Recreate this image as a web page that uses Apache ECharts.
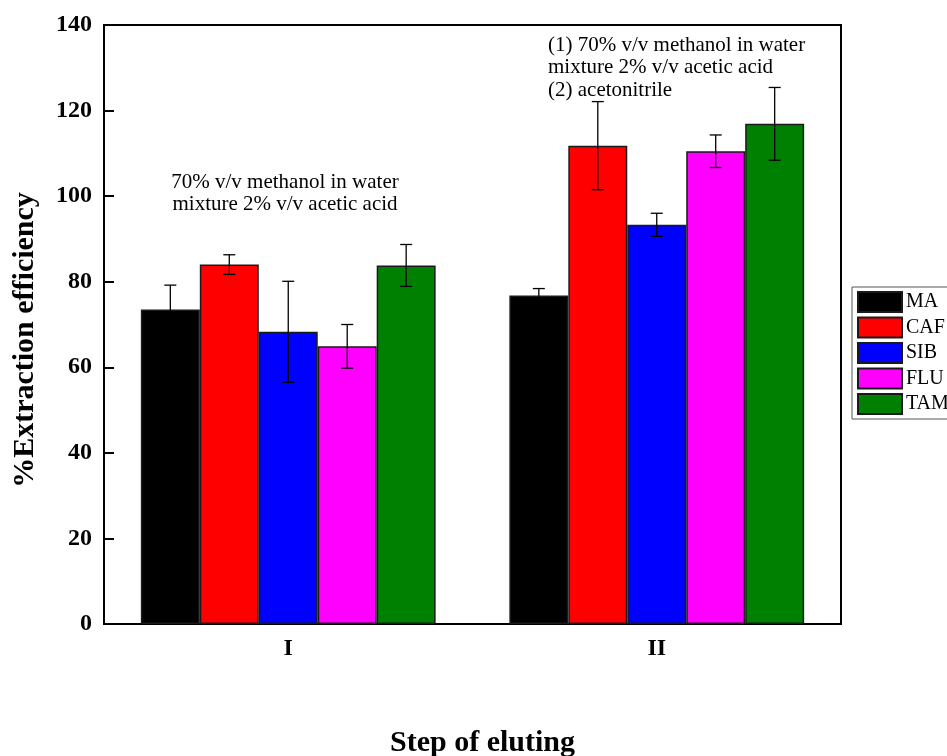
<!DOCTYPE html>
<html>
<head>
<meta charset="utf-8">
<script src="https://cdn.jsdelivr.net/npm/echarts@6/dist/echarts.min.js"></script>
<style>
  html, body { margin: 0; padding: 0; background: #fff; }
  #chart { width: 947px; height: 756px; }
</style>
</head>
<body>
<div id="chart"></div>
<script>
// Elution steps
const categories = ['I', 'II'];

// Mean extraction efficiency (%) per analyte for each elution step
const seriesNames = ['MA', 'CAF', 'SIB', 'FLU', 'TAM'];
const MA  = [73.5, 76.8];
const CAF = [84.0, 111.8];
const SIB = [68.3, 93.3];
const FLU = [64.9, 110.5];
const TAM = [83.8, 116.9];

// Standard deviations (error bar half-lengths)
const MA_err  = [5.7, 1.6];
const CAF_err = [2.3, 10.3];
const SIB_err = [11.8, 2.7];
const FLU_err = [5.1, 3.8];
const TAM_err = [4.9, 8.5];

const yTicks = [0, 20, 40, 60, 80, 100, 120, 140];

const values = [MA, CAF, SIB, FLU, TAM];
const errors = [MA_err, CAF_err, SIB_err, FLU_err, TAM_err];
const colors = ['#000000', '#ff0000', '#0000ff', '#ff00ff', '#008000'];

const serif = '"Liberation Serif", "Times New Roman", serif';
const nBars = seriesNames.length;
const groupFrac = 0.8;

const barSeries = seriesNames.map((name, i) => ({
  name: name,
  type: 'bar',
  data: values[i],
  barGap: '0%',
  barCategoryGap: '20%',
  itemStyle: { color: colors[i], borderColor: '#1a1a1a', borderWidth: 1.5 },
  z: 2
}));

// Error bars drawn at each bar's centre using the category band width
const errSeries = seriesNames.map((name, i) => ({
  name: name + ' error',
  type: 'custom',
  z: 5,
  data: categories.map((c, k) => [k, values[i][k] - errors[i][k], values[i][k] + errors[i][k]]),
  renderItem: function (params, api) {
    const k = api.value(0);
    const lo = api.coord([k, api.value(1)]);
    const hi = api.coord([k, api.value(2)]);
    const band = api.size([1, 0])[0];
    const bw = band * groupFrac / nBars;
    const x = lo[0] - band * groupFrac / 2 + (i + 0.5) * bw;
    const cap = 6;
    const style = { stroke: '#000', lineWidth: 1.3, fill: null };
    return {
      type: 'group',
      children: [
        { type: 'line', shape: { x1: x, y1: lo[1], x2: x, y2: hi[1] }, style: style },
        { type: 'line', shape: { x1: x - cap, y1: hi[1], x2: x + cap, y2: hi[1] }, style: style },
        { type: 'line', shape: { x1: x - cap, y1: lo[1], x2: x + cap, y2: lo[1] }, style: style }
      ]
    };
  }
}));

const chart = echarts.init(document.getElementById('chart'));
chart.setOption({
  backgroundColor: '#fff',
  animation: false,
  grid: {
    left: 104, right: 106, top: 25, bottom: 132,
    outerBoundsMode: 'none',
    containLabel: false,
    show: true, borderColor: '#000', borderWidth: 2
  },
  legend: {
    orient: 'vertical',
    left: 852, top: 287,
    data: seriesNames,
    itemWidth: 44, itemHeight: 20, itemGap: 3.5,
    padding: [4, 20, 4, 5],
    borderColor: '#555', borderWidth: 1,
    icon: 'rect',
    textStyle: { fontFamily: serif, fontSize: 20, lineHeight: 20, color: '#000', padding: [0, 0, 0, -1] }
  },
  xAxis: {
    type: 'category',
    data: categories,
    axisLine: { lineStyle: { color: '#000', width: 2 } },
    axisTick: { inside: true, alignWithLabel: true, length: 9, lineStyle: { color: '#000', width: 2 } },
    axisLabel: { fontFamily: serif, fontSize: 24, fontWeight: 'bold', color: '#000', margin: 13 },
    name: 'Step of eluting',
    nameLocation: 'middle',
    nameGap: 104,
    nameTextStyle: { fontFamily: serif, fontSize: 30, fontWeight: 'bold', color: '#000', padding: [0, 0, 0, 20] }
  },
  yAxis: {
    type: 'value',
    min: yTicks[0], max: yTicks[yTicks.length - 1], interval: yTicks[1] - yTicks[0],
    splitLine: { show: false },
    axisLine: { show: true, lineStyle: { color: '#000', width: 2 } },
    axisTick: { show: true, inside: true, length: 10, lineStyle: { color: '#000', width: 2 } },
    axisLabel: { fontFamily: serif, fontSize: 24, fontWeight: 'bold', color: '#000', margin: 12 }
  },
  graphic: [
    {
      type: 'text', x: 25, y: 340, rotation: Math.PI / 2,
      style: {
        text: '%Extraction efficiency',
        font: 'bold 30px ' + serif,
        fill: '#000', align: 'center', verticalAlign: 'middle'
      }
    },
    {
      type: 'text', x: 285, y: 171,
      style: {
        text: '70% v/v methanol in water\nmixture 2% v/v acetic acid',
        font: '21px ' + serif, lineHeight: 22, fill: '#000', align: 'center'
      }
    },
    {
      type: 'text', x: 548, y: 34,
      style: {
        text: '(1) 70% v/v methanol in water\nmixture 2% v/v acetic acid\n(2) acetonitrile',
        font: '21px ' + serif, lineHeight: 22.5, fill: '#000', align: 'left'
      }
    }
  ],
  series: barSeries.concat(errSeries)
});
</script>
</body>
</html>
